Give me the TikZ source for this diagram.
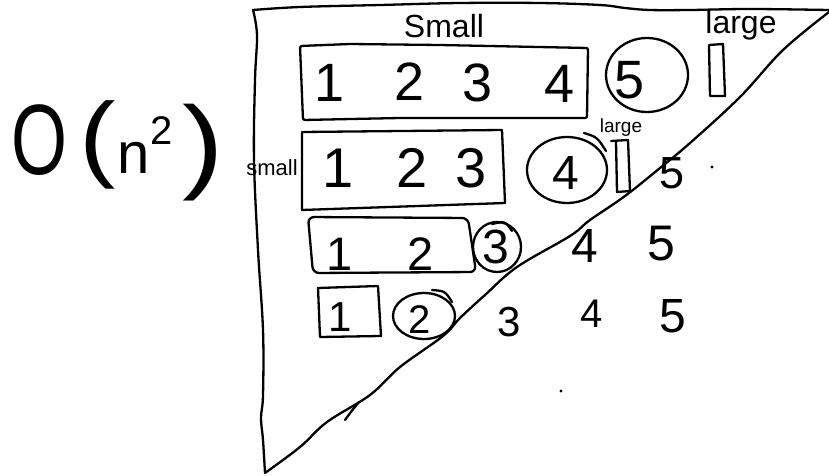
\documentclass[tikz,border=0pt]{standalone}
\usepackage{fontspec}
\setmainfont{Liberation Sans}
\tikzset{
  ink/.style={line width=2.3pt, line cap=round, line join=round},
  txt/.style={inner sep=0pt, outer sep=0pt},
  dig/.style={txt, font=\fontsize{#1}{#1}\selectfont},
}
\begin{document}
\begin{tikzpicture}[x=1pt,y=-1pt]
\useasboundingbox (0,0) rectangle (829,476);
% triangle
\draw[ink] plot[smooth, tension=0.6] coordinates {(253,10) (300,7) (380,5) (460,3) (540,3) (600,5) (625,8) (650,10) (690,10) (750,9) (829,10)};
\draw[ink] plot[smooth, tension=0.6] coordinates {(829,12) (783,50) (740,97) (690,143) (660,168) (625,196) (590,220) (570,236) (517,267) (485,295) (460,318) (443,336) (400,367) (370,395) (327,422) (300,447) (265,473)};
\draw[ink] plot[smooth, tension=0.6] coordinates {(265,473) (263,440) (261,418) (263,395) (263,330) (258,250) (254,160) (255,80) (257,35) (253,10)};
\draw[ink] (345,420) .. controls (350,413) .. (359,402);
% O(n^2)
\node[dig=100] (bigO) at (40,140) {\scalebox{0.72}[1]{O}};
\node[dig=95] (lpar) at (98,145) {\scalebox{1.15}[1]{(}};
\node[dig=58] (nn) at (134,158) {n};
\node[dig=40] (sq) at (162,131) {2};
\node[dig=104] (rpar) at (203,153) {\scalebox{1.2}[1]{)}};
% row 1
\node[dig=32] (smallA) at (444,26) {Small};
\node[dig=32] (largeA) at (741,25) {large};
\draw[ink, rounded corners=2pt] (300,46) -- (350,44) -- (440,45) -- (588,48) -- (587,118) -- (400,118) -- (303,120) -- cycle;
\node[dig=54] (r1a) at (330,83) {1};
\node[dig=54] (r1b) at (410,82) {2};
\node[dig=54] (r1c) at (478,83) {3};
\node[dig=54] (r1d) at (560,84) {4};
\draw[ink] (647,75) ellipse [x radius=41pt, y radius=37pt];
\node[dig=54] (r1e) at (630,80) {5};
\draw[ink] (709,45) -- (723,44) -- (725,96) -- (710,96) -- cycle;
% row 2
\node[dig=22] (smallB) at (272,168) {small};
\draw[ink] (302,132) -- (502,130) -- (505,203) -- (302,210) -- cycle;
\node[dig=56] (r2a) at (338,168) {1};
\node[dig=56] (r2b) at (412,168) {2};
\node[dig=56] (r2c) at (471,168) {3};
\draw[ink] (567,170) ellipse [x radius=40pt, y radius=33pt];
\draw[ink] (584,133) .. controls (597,137) .. (606,151);
\node[dig=48] (r2d) at (566,173) {4};
\node[dig=19] (largeB) at (621,128) {large};
\draw[ink] (611,141) -- (628,140) -- (630,191) -- (617,192) -- (616,141);
\node[dig=45] (r2e) at (672,173) {5};
\fill (712,167) circle (1.6pt);
% row 3
\draw[ink, rounded corners=6pt] (308,217) -- (468,218) -- (476,272) -- (313,273) -- cycle;
\node[dig=47] (r3a) at (340,254) {1};
\node[dig=47] (r3b) at (421,254) {2};
\draw[ink] (497,247) ellipse [x radius=24pt, y radius=25pt];
\draw[ink] (492,224) .. controls (505,221) .. (512,231);
\node[dig=48] (r3c) at (496,247) {3};
\node[dig=48] (r3d) at (585,246) {4};
\node[dig=50] (r3e) at (661,244) {5};
% row 4
\draw[ink] (318,288) -- (378,286) -- (381,336) -- (320,337) -- cycle;
\node[dig=42] (r4a) at (340,317) {1};
\draw[ink] (424,316) ellipse [x radius=31pt, y radius=23pt];
\draw[ink] (432,290) .. controls (445,291) .. (452,302);
\node[dig=40] (r4b) at (420,320) {2};
\node[dig=42] (r4c) at (509,322) {3};
\node[dig=40] (r4d) at (592,314) {4};
\node[dig=48] (r4e) at (673,316) {5};
\fill (561,391) circle (1.6pt);
\end{tikzpicture}
\end{document}
